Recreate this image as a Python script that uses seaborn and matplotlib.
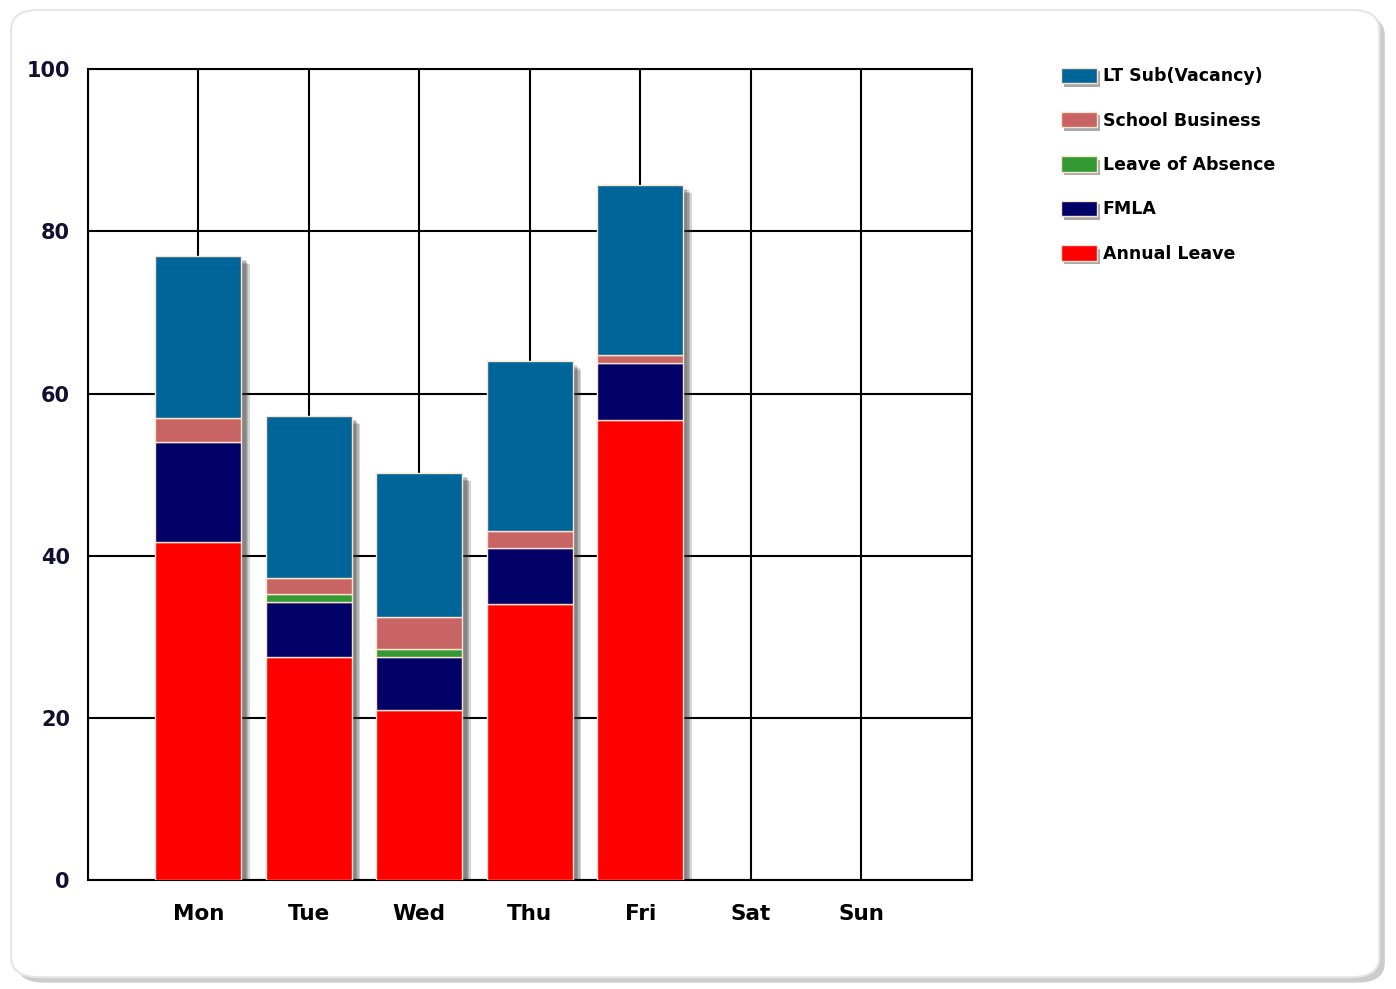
import pandas as pd
import numpy as np
import matplotlib.pyplot as plt
import matplotlib.patheffects as pe
from matplotlib.patches import FancyBboxPatch, Patch
import seaborn as sns

days = ['Mon', 'Tue', 'Wed', 'Thu', 'Fri', 'Sat', 'Sun']
annual_leave = [41.75, 27.5, 21, 34, 56.75, 0, 0]
fmla = [12.25, 6.75, 6.5, 7, 7, 0, 0]
leave_of_absence = [0, 1, 1, 0, 0, 0, 0]
school_business = [3, 2, 4, 2, 1, 0, 0]
lt_sub = [20, 20, 17.75, 21, 21, 0, 0]

series = ['Annual Leave', 'FMLA', 'Leave of Absence', 'School Business', 'LT Sub(Vacancy)']
colors = ['#ff0000', '#000066', '#339933', '#c86464', '#006699']

df = pd.DataFrame({
    'Day': days,
    'Annual Leave': annual_leave,
    'FMLA': fmla,
    'Leave of Absence': leave_of_absence,
    'School Business': school_business,
    'LT Sub(Vacancy)': lt_sub,
})

sns.set_style('white')
plt.rcParams['font.family'] = ['DejaVu Sans']
plt.rcParams['text.color'] = 'black'

fig = plt.figure(figsize=(13.96, 9.89), dpi=100)

# rounded panel with soft shadow, kept behind the axes
panel = FancyBboxPatch((0.008, 0.012), 0.98, 0.978, boxstyle='round,pad=0,rounding_size=0.02',
                       transform=fig.transFigure, facecolor='white', edgecolor='#e6e6e6', linewidth=1.5,
                       path_effects=[pe.SimplePatchShadow(offset=(4, -4), shadow_rgbFace='#9a9a9a', alpha=0.5),
                                     pe.Normal()],
                       zorder=-10)
fig.patches.append(panel)

ax = fig.add_axes([0.063, 0.110, 0.633, 0.820])
ax.set_facecolor('none')
ax.set_zorder(5)

# soft drop shadow: a few stacked, faint offsets
shadow = [pe.SimplePatchShadow(offset=(d, -d), shadow_rgbFace='#303030', alpha=0.2) for d in (6, 5, 4, 3)]
shadow.append(pe.Normal())

# total bar behind, carries the drop shadow
total = df[series].sum(axis=1)
sns.barplot(x=df['Day'], y=total, order=days, color='white', width=0.78,
            edgecolor='none', ax=ax, zorder=2)
for p in ax.patches:
    p.set_path_effects(shadow)

bottom = np.zeros(len(days))
for name, col in zip(series, colors):
    sns.barplot(x=df['Day'], y=df[name], order=days, bottom=bottom, color=col, width=0.78,
                edgecolor='#fbe3cf', linewidth=1.0, saturation=1, ax=ax, zorder=3)
    bottom = bottom + df[name].values

for p in ax.patches:
    if p.get_height() == 0:
        p.set_visible(False)

ax.set_xlim(-1, 7)
ax.set_ylim(0, 100)
ax.set_xticks(range(-1, 8))
ax.set_xticklabels([''] + days + [''], fontsize=15.5, fontweight='bold', color='black')
ax.set_yticks([0, 20, 40, 60, 80, 100])
ax.set_yticklabels(['0', '20', '40', '60', '80', '100'], fontsize=15, fontweight='bold', color='#101030')
ax.set_xlabel('')
ax.set_ylabel('')
ax.tick_params(axis='both', length=8, width=1.5, color='black', direction='out', pad=5)
ax.tick_params(axis='x', pad=9)
for s in ax.spines.values():
    s.set_color('black')
    s.set_linewidth(1.5)
ax.grid(True, color='black', linewidth=1.5)
ax.set_axisbelow(True)

handle_fx = [pe.SimplePatchShadow(offset=(2.5, -2.5), shadow_rgbFace='#555555', alpha=0.5), pe.Normal()]
handles = [Patch(facecolor=c, edgecolor='#fbe3cf', linewidth=1, label=n, path_effects=handle_fx)
           for n, c in zip(series, colors)][::-1]
leg = fig.legend(handles=handles, loc='upper left', bbox_to_anchor=(0.755, 0.939), frameon=False,
                 prop={'weight': 'bold', 'size': 12.5}, handlelength=2.05, handleheight=1.0,
                 handletextpad=0.35, labelspacing=1.52, borderaxespad=0)
for t in leg.get_texts():
    t.set_color('black')

fig.savefig('out.png', dpi=100, facecolor='white')
